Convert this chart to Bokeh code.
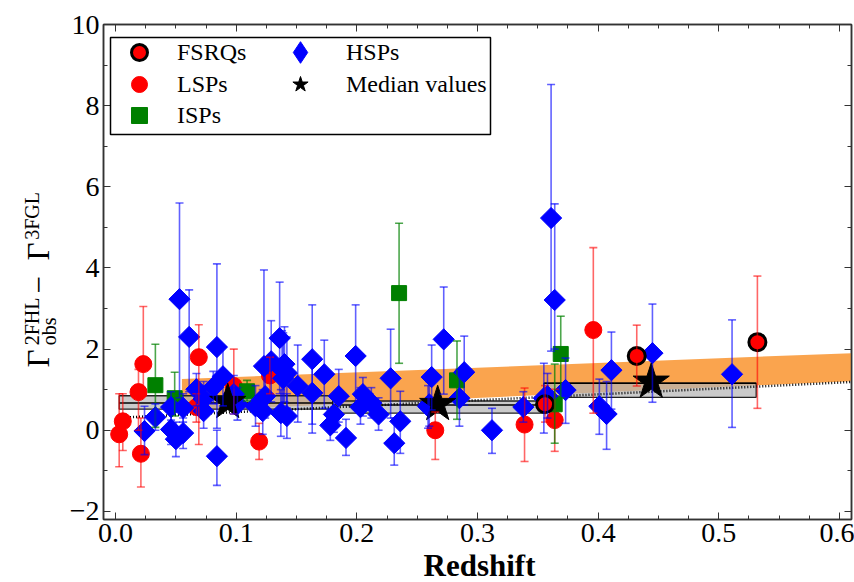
from math import pi

from bokeh.core.properties import value
from bokeh.embed import file_html
from bokeh.layouts import column, row
from bokeh.models import (BoxAnnotation, ColumnDataSource, CustomJSTickFormatter, Legend,
                          LegendItem, LinearAxis, PrintfTickFormatter, Range1d,
                          SingleIntervalTicker, TeeHead, Whisker)
from bokeh.plotting import figure
from bokeh.resources import INLINE

SERIF = "Liberation Serif"

# ---- per-source photon-index differences: redshift, value, lower, upper ----
lsp_z = [0.003, 0.006, 0.023, 0.019, 0.021, 0.069, 0.098, 0.119, 0.067, 0.128,
         0.265, 0.339, 0.364, 0.396]
lsp_g = [-0.10, 0.22, 1.63, 0.94, -0.58, 1.80, 1.09, -0.28, 0.57, 1.35,
         0.00, 0.14, 0.25, 2.47]
lsp_lo = [-0.90, -0.50, 0.85, 0.00, -1.40, -0.35, 0.40, -0.72, 0.20, 0.90,
          -0.72, -0.77, -0.52, 0.42]
lsp_hi = [0.90, 0.90, 3.05, 1.50, 0.30, 2.60, 2.00, 0.17, 0.90, 1.80,
          0.45, 1.04, 1.01, 4.50]

fsrq_z = [0.432, 0.532, 0.356]
fsrq_g = [1.83, 2.17, 0.64]
fsrq_lo = [1.09, 0.54, 0.20]
fsrq_hi = [2.59, 3.80, 1.10]

isp_z = [0.033, 0.049, 0.109, 0.235, 0.283, 0.369, 0.364]
isp_g = [1.11, 0.79, 0.96, 3.38, 1.23, 1.88, 0.64]
isp_lo = [0.07, 0.35, 0.72, 1.65, 0.27, 0.80, -0.32]
isp_hi = [2.12, 1.43, 1.23, 5.10, 2.20, 2.81, 1.63]

hsp_z = [0.024, 0.033, 0.046, 0.046, 0.050, 0.056, 0.056, 0.053, 0.061, 0.067,
         0.073, 0.073, 0.081, 0.084, 0.084, 0.089, 0.098, 0.101, 0.116, 0.122,
         0.123, 0.129, 0.124, 0.136, 0.139, 0.137, 0.142, 0.138, 0.140, 0.142,
         0.151, 0.163, 0.163, 0.173, 0.185, 0.181, 0.178, 0.191, 0.199, 0.205,
         0.203, 0.212, 0.218, 0.228, 0.236, 0.231, 0.262, 0.260, 0.259, 0.272,
         0.285, 0.289, 0.312, 0.338, 0.355, 0.358, 0.361, 0.364, 0.373, 0.401,
         0.407, 0.411, 0.445, 0.511]
hsp_g = [-0.02, 0.32, 0.57, 0.02, -0.22, 0.55, -0.07, 3.23, 2.30, 1.01,
         0.77, 0.47, 1.06, 2.05, -0.64, 1.33, 0.89, 0.64, 0.59, 0.47,
         1.58, 1.70, 0.84, 2.27, 1.28, 0.42, 0.35, 1.50, 1.63, 1.41,
         1.09, 1.75, 0.92, 1.38, 0.84, 0.39, 0.12, -0.19, 1.83, 0.89,
         0.57, 0.67, 0.39, 1.28, 0.22, -0.32, 1.31, 0.64, 0.59, 2.24,
         0.79, 1.43, 0.00, 0.57, 0.79, 0.84, 5.23, 3.21, 0.99, 0.59,
         0.40, 1.48, 1.90, 1.38]
hsp_lo = [-0.60, 0.00, 0.25, -0.35, -0.65, 0.20, -0.45, 0.80, 0.95, 0.60,
          0.35, 0.05, 0.65, 0.05, -1.36, 0.60, 0.40, 0.25, 0.10, -0.10,
          0.40, 0.70, 0.30, 0.90, 0.50, -0.15, -0.20, 0.60, 0.70, 0.55,
          0.20, -0.07, 0.15, 0.54, 0.20, -0.05, -0.25, -0.62, 0.64, 0.35,
          0.15, 0.30, 0.00, 0.30, -0.57, -0.86, 0.50, 0.10, 0.05, 0.89,
          0.10, 0.62, -0.57, 0.20, -0.07, 0.30, 1.95, 2.00, 0.17, -0.10,
          -0.47, 0.52, 0.69, 0.07]
hsp_hi = [0.59, 0.65, 0.95, 0.40, 0.20, 0.90, 0.30, 5.60, 3.46, 1.40,
          1.20, 0.90, 1.45, 4.10, 0.00, 2.05, 1.35, 1.05, 1.10, 1.00,
          3.95, 2.70, 1.40, 3.65, 2.40, 1.00, 0.90, 2.45, 2.55, 2.30,
          2.10, 3.09, 1.70, 2.22, 1.50, 0.85, 0.50, 0.27, 3.09, 1.30,
          1.05, 1.05, 0.80, 2.49, 0.96, 0.30, 2.10, 1.20, 1.10, 3.53,
          1.50, 2.32, 0.54, 0.95, 1.65, 1.40, 8.52, 5.58, 1.78, 1.26,
          1.20, 2.42, 3.11, 2.72]

# ---- binned medians ----
bin_left = [0.003, 0.180, 0.355]
bin_right = [0.180, 0.355, 0.531]
bin_lo = [0.52, 0.42, 0.81]
bin_hi = [0.85, 0.72, 1.16]
bin_line = [0.67, 0.62, 1.16]
med_z = [0.093, 0.267, 0.444]
med_g = [0.69, 0.64, 1.19]

# ---- linear-fit confidence band and reference trend ----
band_z = [0.055, 0.61]
band_top = [1.26, 1.90]
band_bot = [0.47, 1.21]
trend_z = [0.012, 0.61]
trend_g = [0.32, 1.19]

# ---------------------------------------------------------------- main panel
p = figure(width=794, height=554,
           x_range=Range1d(-0.01, 0.61), y_range=Range1d(-2.2, 10.0),
           output_backend="svg", toolbar_location=None,
           min_border_left=43, min_border_right=3,
           min_border_top=24, min_border_bottom=35)
p.xgrid.visible = False
p.ygrid.visible = False
p.background_fill_color = "white"
p.border_fill_color = "white"
p.outline_line_color = "#333333"
p.outline_line_width = 1.5

# confidence band of the fit
p.varea(x=band_z, y1=band_bot, y2=band_top, fill_color="#fa9f45",
        fill_alpha=0.95, level="underlay")

# median boxes
box_src = ColumnDataSource(dict(left=bin_left, right=bin_right, bottom=bin_lo,
                                top=bin_hi, line=bin_line))
p.quad(left="left", right="right", bottom="bottom", top="top", source=box_src,
       fill_color="#b4b4b4", fill_alpha=0.7, line_color="#222222",
       line_width=1.3, level="underlay")
p.segment(x0="left", x1="right", y0="line", y1="line", source=box_src,
          line_color="black", line_width=1.5, level="underlay")

# dotted trend
p.line(trend_z, trend_g, line_color="black", line_width=2.5, line_dash="1 2",
       level="underlay")


def errorbars(z, lo, hi, color, alpha):
    src = ColumnDataSource(dict(z=z, lo=lo, hi=hi))
    head = dict(size=8, line_color=color, line_alpha=alpha, line_width=1.6)
    w = Whisker(source=src, base="z", lower="lo", upper="hi",
                line_color=color, line_alpha=alpha, line_width=1.6,
                upper_head=TeeHead(**head), lower_head=TeeHead(**head),
                level="glyph")
    p.add_layout(w)


errorbars(lsp_z, lsp_lo, lsp_hi, "#ff0000", 0.6)
errorbars(fsrq_z, fsrq_lo, fsrq_hi, "#ff0000", 0.6)
errorbars(isp_z, isp_lo, isp_hi, "#008000", 0.7)
errorbars(hsp_z, hsp_lo, hsp_hi, "#0000ff", 0.62)

r_lsp = p.scatter(lsp_z, lsp_g, marker="circle", size=17, fill_color="#ff0000",
                  line_color="#ff0000")
r_isp = p.scatter(isp_z, isp_g, marker="square", size=15, fill_color="#008000",
                  line_color="#008000")
# diamond-shaped key for the HSP class, sitting under the rotated squares
r_hsp_key = p.scatter(hsp_z, hsp_g, marker="diamond", size=14,
                      fill_color="#0000ff", line_color="#0000ff")
r_hsp = p.scatter(hsp_z, hsp_g, marker="square", angle=pi / 4, size=15,
                  fill_color="#0000ff", line_color="#0000ff")
r_fsrq = p.scatter(fsrq_z, fsrq_g, marker="circle", size=17, fill_color="#ff0000",
                   line_color="black", line_width=3)
r_med = p.scatter(med_z, med_g, marker="star", size=38, fill_color="black",
                  line_color="black")

# axes: inward ticks on all four sides, labels only bottom/left
bottom_ax = p.below[0]
left_ax = p.left[0]
bottom_ax.ticker = SingleIntervalTicker(interval=0.1, num_minor_ticks=4)
left_ax.ticker = SingleIntervalTicker(interval=2, num_minor_ticks=2)
bottom_ax.formatter = PrintfTickFormatter(format="%.1f")
left_ax.major_label_overrides = {-2: "\u22122"}

blank = CustomJSTickFormatter(code="return ''")
top_ax = LinearAxis(ticker=SingleIntervalTicker(interval=0.1, num_minor_ticks=4),
                    formatter=blank)
right_ax = LinearAxis(ticker=SingleIntervalTicker(interval=2, num_minor_ticks=2),
                      formatter=blank)
p.add_layout(top_ax, "above")
p.add_layout(right_ax, "right")

for ax in [bottom_ax, left_ax, top_ax, right_ax]:
    ax.axis_line_color = "#333333"
    ax.axis_line_width = 1.5
    ax.major_tick_line_color = "#333333"
    ax.minor_tick_line_color = "#333333"
    ax.major_tick_in = 7
    ax.major_tick_out = 0
    ax.minor_tick_in = 4
    ax.minor_tick_out = 0
    ax.major_label_text_font = SERIF
    ax.major_label_text_font_size = "28px"
    ax.major_label_text_color = "black"
    ax.major_label_standoff = 4
for ax in [top_ax, right_ax]:
    ax.major_label_standoff = 0

# legend: outer frame, then one single-entry legend per key
p.add_layout(BoxAnnotation(left=7, right=387, bottom=385, top=482,
                           left_units="screen", right_units="screen",
                           bottom_units="screen", top_units="screen",
                           fill_color="white", fill_alpha=1.0,
                           line_color="black", line_width=1.5, line_alpha=1.0))

legend_keys = [
    # label, renderer, key box, left, bottom, standoff
    ("FSRQs", r_fsrq, 40, 16, 447, 18),
    ("LSPs", r_lsp, 40, 16, 415, 18),
    ("ISPs", r_isp, 40, 16, 384, 18),
    ("HSPs", r_hsp_key, 54, 170, 440, 19),
    ("Median values", r_med, 40, 177, 415, 26),
]
for label, rend, box, lx, ly, standoff in legend_keys:
    p.add_layout(Legend(items=[LegendItem(label=label, renderers=[rend])],
                        location=(lx, ly), label_text_font=SERIF,
                        label_text_font_size="24px", label_text_color="black",
                        glyph_width=box, glyph_height=box, spacing=0,
                        label_standoff=standoff, padding=0, margin=0,
                        border_line_alpha=0, background_fill_alpha=0), "center")

# ---------------------------------------------------------------- y title strip
ylab = figure(width=60, height=554, x_range=Range1d(0, 60), y_range=Range1d(0, 554),
              x_axis_type=None, y_axis_type=None,
              output_backend="svg", toolbar_location=None, min_border=0)
ylab.grid.visible = False
ylab.outline_line_color = None

ylabel_parts = [
    ("\u0393", 38, 170, "31px"),
    ("2FHL", 31, 195, "20px"),
    ("obs", 48, 195, "20px"),
    ("\u2212", 38, 253, "31px"),
    ("\u0393", 38, 290, "31px"),
    ("3FGL", 31, 313, "20px"),
]
for txt, tx, ty, fs in ylabel_parts:
    ylab.text(x=[tx], y=[ty], text=[txt], angle=pi / 2,
              text_font=value(SERIF), text_font_size=value(fs),
              text_align="left", text_baseline="alphabetic", text_color="black")

# ---------------------------------------------------------------- x title strip
xlab = figure(width=854, height=28, x_range=Range1d(0, 854), y_range=Range1d(0, 28),
              x_axis_type=None, y_axis_type=None,
              output_backend="svg", toolbar_location=None, min_border=0)
xlab.grid.visible = False
xlab.outline_line_color = None
xlab.text(x=[479], y=[17], text=["Redshift"], text_font=value(SERIF),
          text_font_size=value("31px"), text_font_style="bold",
          text_align="center", text_baseline="alphabetic", text_color="black")

page = column(row(ylab, p, spacing=0), xlab, spacing=0)
open("out.html", "w").write(file_html(page, INLINE))
